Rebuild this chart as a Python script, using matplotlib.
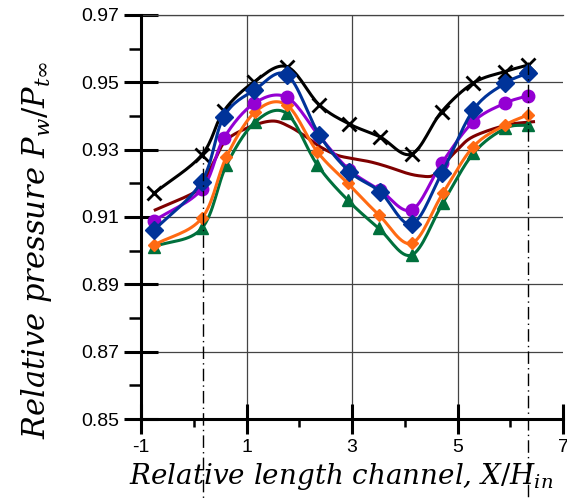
import matplotlib
matplotlib.use("Agg")
import matplotlib.pyplot as plt
import numpy as np
from matplotlib.ticker import FixedLocator

# marker positions, X/H_in
x_upper = [-0.75, 0.15, 0.57, 1.15, 1.77, 2.38, 2.95, 3.53, 4.13, 4.70, 5.30, 5.90, 6.33]
x_lower = [-0.75, 0.15, 0.62, 1.17, 1.76, 2.34, 2.92, 3.51, 4.13, 4.72, 5.30, 5.90, 6.33]

black = [0.9171, 0.9284, 0.9415, 0.9502, 0.9546, 0.9433, 0.9376, 0.9338, 0.9287, 0.9413, 0.9498, 0.9532, 0.9551]
blue = [0.9061, 0.9205, 0.9398, 0.9477, 0.9522, 0.9344, 0.9235, 0.9175, 0.9079, 0.9230, 0.9418, 0.9497, 0.9527]
purple = [0.9089, 0.9182, 0.9334, 0.9438, 0.9455, 0.9340, 0.9240, 0.9180, 0.9121, 0.9260, 0.9383, 0.9438, 0.9460]
orange = [0.9017, 0.9096, 0.9279, 0.9413, 0.9433, 0.9294, 0.9200, 0.9106, 0.9022, 0.9170, 0.9309, 0.9373, 0.9403]
green = [0.9012, 0.9066, 0.9254, 0.9383, 0.9408, 0.9255, 0.9150, 0.9066, 0.8987, 0.9141, 0.9289, 0.9363, 0.9373]

# calculated curve (no markers)
x_calc = [-0.73, -0.01, 0.17, 0.40, 0.62, 1.07, 1.50, 1.82, 2.14, 2.39, 2.71, 2.99,
          3.34, 3.66, 4.04, 4.29, 4.52, 4.67, 5.00, 5.30, 5.93, 6.44]
calc = [0.9121, 0.9171, 0.9200, 0.9270, 0.9329, 0.9368, 0.9385, 0.9368, 0.9337, 0.9309, 0.9284, 0.9274,
        0.9264, 0.9250, 0.9230, 0.9222, 0.9222, 0.9245, 0.9300, 0.9339, 0.9373, 0.9383]

# section boundaries (dash-dot)
x_bounds = [0.17, 6.33]
y_bounds_top = [0.931, 0.956]

x_major = [-1, 1, 3, 5, 7]
x_minor = [0, 2, 4, 6]
y_major = [0.85, 0.87, 0.89, 0.91, 0.93, 0.95, 0.97]
y_minor = [0.86, 0.88, 0.90, 0.92, 0.94, 0.96]


def smooth(x, y, n=16):
    # Catmull-Rom path through the points, like a smoothed spreadsheet line
    x = np.asarray(x, float)
    y = np.asarray(y, float)
    px = np.r_[2 * x[0] - x[1], x, 2 * x[-1] - x[-2]]
    py = np.r_[2 * y[0] - y[1], y, 2 * y[-1] - y[-2]]
    t = np.linspace(0, 1, n, endpoint=False)
    xs, ys = [], []
    for i in range(1, len(px) - 2):
        for p, out in ((px, xs), (py, ys)):
            p0, p1, p2, p3 = p[i - 1], p[i], p[i + 1], p[i + 2]
            out.extend(0.5 * (2 * p1 + (-p0 + p2) * t
                              + (2 * p0 - 5 * p1 + 4 * p2 - p3) * t ** 2
                              + (-p0 + 3 * p1 - 3 * p2 + p3) * t ** 3))
    xs.append(x[-1])
    ys.append(y[-1])
    return xs, ys


def main() -> None:
    plt.rcParams["mathtext.fontset"] = "dejavuserif"
    fig = plt.figure(figsize=(5.67, 4.99), dpi=100)
    ax = fig.add_axes([0.2487, 0.1603, 0.7443, 0.8097])

    lw = 2.2
    ax.plot(*smooth(x_calc, calc), color="#7f0000", lw=lw, zorder=3)

    series = [
        (x_lower, green, "#00703c", "^", 8, 1),
        (x_lower, orange, "#ff6a13", "D", 6.5, 1),
        (x_upper, purple, "#9400d3", "o", 9, 1),
        (x_upper, black, "#000000", "x", 10, 2),
        (x_upper, blue, "#003399", "D", 9.5, 1),
    ]
    for i, (xs, ys, c, m, ms, mew) in enumerate(series):
        ax.plot(*smooth(xs, ys), color=c, lw=lw, zorder=4 + i)
        ax.plot(xs, ys, ls="none", marker=m, ms=ms, mew=mew, color=c, zorder=4 + i)

    for xb, yt in zip(x_bounds, y_bounds_top):
        ax.plot([xb, xb], [yt, 0.826], color="black", lw=1.0,
                ls=(0, (9, 3, 1, 3)), clip_on=False, zorder=10)

    ax.set_xlim(-1, 7)
    ax.set_ylim(0.85, 0.97)
    ax.xaxis.set_major_locator(FixedLocator(x_major))
    ax.xaxis.set_minor_locator(FixedLocator(x_minor))
    ax.yaxis.set_major_locator(FixedLocator(y_major))
    ax.yaxis.set_minor_locator(FixedLocator(y_minor))
    ax.set_xticklabels([f"{v:g}" for v in x_major])
    ax.set_yticklabels([f"{v:.2f}" for v in y_major])

    for lab in ax.get_xticklabels() + ax.get_yticklabels():
        lab.set_fontfamily("Liberation Sans")
        lab.set_fontsize(14)

    ax.tick_params(axis="both", which="major", direction="inout", width=2.2, color="black")
    ax.tick_params(axis="y", which="major", length=24, pad=3.5)
    ax.tick_params(axis="x", which="major", length=21, pad=4)
    ax.tick_params(axis="y", which="minor", direction="out", length=8.5, width=1.8)
    ax.tick_params(axis="x", which="minor", direction="out", length=6, width=1.8)

    ax.grid(True, which="major", color="#444444", lw=0.9)
    ax.xaxis.get_major_ticks()[-1].gridline.set_visible(False)
    for side in ("top", "right"):
        ax.spines[side].set_visible(False)
    for side in ("left", "bottom"):
        ax.spines[side].set_linewidth(2.2)
    ax.axhline(0.97, color="#444444", lw=0.9, clip_on=False)

    label_font = {"family": "DejaVu Serif", "style": "italic", "size": 20}
    ax.set_xlabel(r"Relative length channel, $X/H_{in}$", fontdict=label_font)
    ax.set_ylabel(r"Relative pressure $P_w/P_{t\infty}$", fontdict=dict(label_font, size=22))
    ax.xaxis.set_label_coords(0.475, -0.105)
    ax.yaxis.set_label_coords(-0.205, 0.42)

    fig.savefig("out.png", dpi=100)
    plt.close(fig)


if __name__ == "__main__":
    main()
